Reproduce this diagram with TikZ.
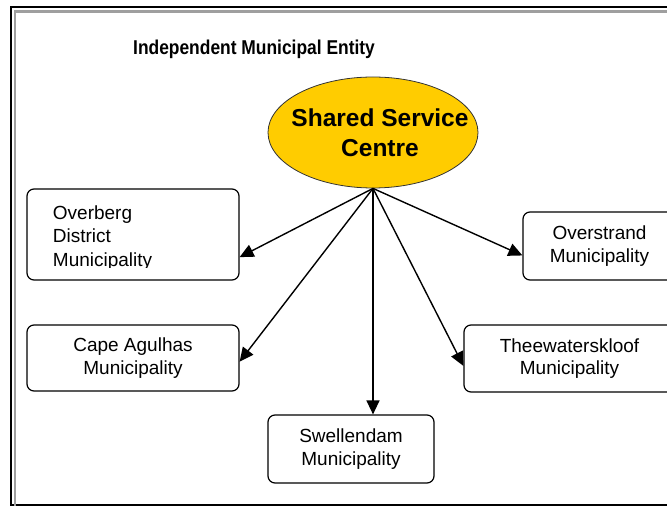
\documentclass[tikz,border=0pt]{standalone}
\usepackage{fontspec}
\setmainfont{Liberation Sans}
\usetikzlibrary{shapes.geometric,arrows.meta}
\definecolor{hubyellow}{HTML}{FFCC00}
\tikzset{muni/.style={draw, line width=1.2pt, rounded corners=7pt, align=center, inner sep=0pt, font=\fontsize{19}{22.5}\selectfont},
  hub/.style={ellipse, draw=black!80, line width=0.8pt, fill=hubyellow, inner sep=0pt, minimum width=210pt, minimum height=111pt},
  link/.style={line width=1.4pt, -{Triangle[length=14pt,width=13pt]}}}

\begin{document}
\begin{tikzpicture}[x=1pt,y=1pt]
  \useasboundingbox (0,0) rectangle (667,506);
  \clip (0,0) rectangle (667,506);
  % page frame, runs off to the right
  \draw[line width=2pt] (11,1) rectangle (700,499);
  \draw[line width=2.5pt, gray!75] (15,-20) rectangle (700,494.5);

  \node[font=\bfseries\fontsize{20}{24}\selectfont, xscale=0.87, transform shape] (title) at (254.0, 457.0) {Independent Municipal Entity};

  % centre
  \node[hub] (ssc) at (373.0, 373.5) {};
  \node[font=\bfseries\fontsize{24.5}{30}\selectfont, align=center] (ssct) at ([xshift=7pt]ssc.center) {Shared Service\\Centre};

  % municipalities
  \node[muni, minimum width=212pt, minimum height=91pt] (ov) at (133.0, 271.5) {};
  \node[muni, minimum width=153pt, minimum height=68pt] (os) at (599.5, 260.0) {Overstrand\\Municipality};
  \node[muni, minimum width=212pt, minimum height=66pt] (ca) at (133.0, 148.0) {Cape Agulhas\\Municipality};
  \node[muni, minimum width=211pt, minimum height=67pt] (tw) at (569.5, 147.5) {Theewaterskloof\\Municipality};
  \node[muni, minimum width=166pt, minimum height=68pt] (sw) at (351.0,  57.0) {Swellendam\\Municipality};
  \begin{scope}
    \clip (ov.north west) rectangle ([yshift=13pt]ov.south east);
    \node[font=\fontsize{19}{23.5}\selectfont, align=left, anchor=west] (ovt) at ([xshift=23pt,yshift=-3.5pt]ov.west) {Overberg\\District\\Municipality};
  \end{scope}

  \draw[link] (ssc.south) -- (ov.-12);
  \draw[link] (ssc.south) -- (ca.-2);
  \draw[link] (ssc.south) -- (ssc.south |- sw.north);
  \draw[link] (ssc.south) -- (tw.184);
  \draw[link] (ssc.south) -- (os.187);
\end{tikzpicture}
\end{document}
